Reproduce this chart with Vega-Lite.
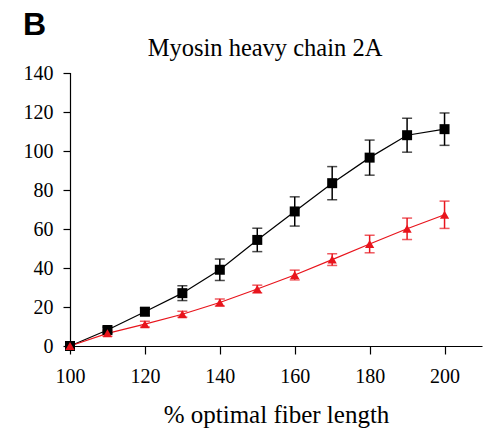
{
  "$schema": "https://vega.github.io/schema/vega-lite/v6.json",
  "padding": {"left": 23, "top": 8, "right": 5, "bottom": 5},
  "autosize": {"type": "pad"},
  "background": "white",
  "title": {"text": "B", "anchor": "start", "frame": "bounds", "font": "Liberation Sans", "fontSize": 32, "fontWeight": "bold", "color": "black", "offset": -6},
  "config": {
    "view": {"stroke": null},
    "font": "Liberation Serif",
    "axis": {
      "grid": false,
      "domainColor": "black",
      "domainWidth": 1.2,
      "tickColor": "black",
      "tickWidth": 1.2,
      "tickSize": 8,
      "labelColor": "black",
      "labelFont": "Liberation Serif",
      "labelFontSize": 20,
      "labelFlush": false,
      "labelOverlap": false,
      "titleColor": "black",
      "titleFont": "Liberation Serif",
      "titleFontSize": 25,
      "titleFontWeight": "normal"
    },
    "axisY": {"labelPadding": 10, "tickSize": 7}
  },
  "vconcat": [
    {
      "width": 412,
      "height": 273,
      "title": {"text": "Myosin heavy chain 2A", "font": "Liberation Serif", "fontSize": 24.5, "fontWeight": "normal", "color": "black", "anchor": "middle", "frame": "group", "dx": -11, "offset": 2},
      "data": {
        "values": [
          {"length": 100, "mean": 0, "err": 0, "series": "Series 1"},
          {"length": 110, "mean": 8.2, "err": 1.5, "series": "Series 1"},
          {"length": 120, "mean": 17.6, "err": 2, "series": "Series 1"},
          {"length": 130, "mean": 27.1, "err": 3.8, "series": "Series 1"},
          {"length": 140, "mean": 39.1, "err": 5.5, "series": "Series 1"},
          {"length": 150, "mean": 54.4, "err": 6, "series": "Series 1"},
          {"length": 160, "mean": 69, "err": 7.5, "series": "Series 1"},
          {"length": 170, "mean": 83.5, "err": 8.5, "series": "Series 1"},
          {"length": 180, "mean": 96.6, "err": 9, "series": "Series 1"},
          {"length": 190, "mean": 108.1, "err": 8.7, "series": "Series 1"},
          {"length": 200, "mean": 111.2, "err": 8.3, "series": "Series 1"},
          {"length": 100, "mean": 0, "err": 0, "series": "Series 2"},
          {"length": 110, "mean": 6.5, "err": 1.5, "series": "Series 2"},
          {"length": 120, "mean": 11.2, "err": 1.5, "series": "Series 2"},
          {"length": 130, "mean": 16.3, "err": 1.5, "series": "Series 2"},
          {"length": 140, "mean": 22.3, "err": 1.8, "series": "Series 2"},
          {"length": 150, "mean": 29.2, "err": 2, "series": "Series 2"},
          {"length": 160, "mean": 36.4, "err": 2.5, "series": "Series 2"},
          {"length": 170, "mean": 44.3, "err": 3, "series": "Series 2"},
          {"length": 180, "mean": 52.3, "err": 4.5, "series": "Series 2"},
          {"length": 190, "mean": 60.1, "err": 5.5, "series": "Series 2"},
          {"length": 200, "mean": 67.3, "err": 7, "series": "Series 2"}
        ]
      },
      "encoding": {
        "x": {"field": "length", "type": "quantitative", "scale": {"domain": [100, 210], "nice": false, "zero": false}, "axis": {"values": [100, 120, 140, 160, 180, 200], "title": "% optimal fiber length", "labelPadding": 12, "titlePadding": 16}},
        "y": {"field": "mean", "type": "quantitative", "scale": {"domain": [0, 140], "nice": false}, "axis": {"values": [0, 20, 40, 60, 80, 100, 120, 140], "title": null, "labelPadding": 10, "tickSize": 7, "labelBound": false, "domainCap": "square"}},
        "color": {"field": "series", "type": "nominal", "scale": {"domain": ["Series 1", "Series 2"], "range": ["#000000", "#e8141c"]}, "legend": null}
      },
      "layer": [
        {
          "mark": {"type": "line", "strokeWidth": 1.2}
        },
        {
          "mark": {"type": "errorbar", "ticks": {"size": 10}, "thickness": 1.5},
          "encoding": {
            "yError": {"field": "err"}
          }
        },
        {
          "mark": {"type": "point", "filled": true, "opacity": 1},
          "encoding": {
            "shape": {"field": "series", "type": "nominal", "scale": {"domain": ["Series 1", "Series 2"], "range": ["square", "triangle-up"]}, "legend": null},
            "size": {"field": "series", "type": "nominal", "scale": {"domain": ["Series 1", "Series 2"], "range": [100, 85]}, "legend": null}
          }
        }
      ]
    }
  ]
}
